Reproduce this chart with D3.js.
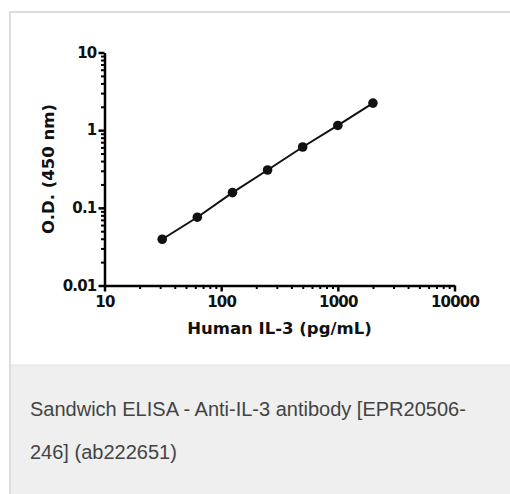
<!DOCTYPE html>
<html>
<head>
<meta charset="utf-8">
<script src="https://cdn.jsdelivr.net/npm/d3@7"></script>
<style>
  body { margin: 0; background: #fff; }
  svg { display: block; }
</style>
</head>
<body>
<svg id="chart"></svg>
<script>
// concentrations (pg/mL) and O.D. at 450 nm
const conc = [31.25, 62.5, 125, 250, 500, 1000, 2000];
const od = [0.0394, 0.0757, 0.157, 0.307, 0.607, 1.15, 2.23];
const xTicks = [10, 100, 1000, 10000];
const yTicks = [0.01, 0.1, 1, 10];
const xTitle = "Human IL-3 (pg/mL)";
const yTitle = "O.D. (450 nm)";
const captionLines = ["Sandwich ELISA - Anti-IL-3 antibody [EPR20506-", "246] (ab222651)"];

const width = 510, height = 494;
const svg = d3.select("#chart").attr("width", width).attr("height", height);

// card background: white chart panel + grey caption strip
svg.append("rect").attr("x", 10).attr("y", 12).attr("width", 500).attr("height", 353).attr("fill", "#fff");
svg.append("rect").attr("x", 10).attr("y", 365).attr("width", 500).attr("height", 129).attr("fill", "#eeefee");
svg.append("path")
  .attr("d", "M10,494V12H510")
  .attr("fill", "none").attr("stroke", "#dddddd").attr("stroke-width", 2);
svg.append("line").attr("x1", 10).attr("x2", 510).attr("y1", 365).attr("y2", 365)
  .attr("stroke", "#e2e2e2").attr("stroke-width", 1);

const x = d3.scaleLog().domain([10, 10000]).range([104.5, 454.5]);
const y = d3.scaleLog().domain([0.01, 10]).range([285.5, 52.5]);

const minorX = [];
xTicks.slice(0, -1).forEach(t => { for (let k = 2; k <= 9; k++) minorX.push(t * k); });
const minorY = [];
yTicks.slice(0, -1).forEach(t => { for (let k = 2; k <= 9; k++) minorY.push(t * k); });

const font = "'DejaVu Sans', sans-serif";

// minor ticks
svg.append("g")
  .attr("transform", `translate(0,${y(0.01)})`)
  .call(d3.axisBottom(x).tickValues(minorX).tickSize(3.5).tickFormat(""))
  .call(g => g.select(".domain").remove())
  .call(g => g.selectAll("line").attr("stroke-width", 2));
svg.append("g")
  .attr("transform", `translate(${x(10)},0)`)
  .call(d3.axisLeft(y).tickValues(minorY).tickSize(3.5).tickFormat(""))
  .call(g => g.select(".domain").remove())
  .call(g => g.selectAll("line").attr("stroke-width", 2));

// major axes
const xAxis = svg.append("g")
  .attr("transform", `translate(0,${y(0.01)})`)
  .call(d3.axisBottom(x).tickValues(xTicks).tickSize(6).tickSizeOuter(0).tickPadding(5).tickFormat(d3.format("d")));
xAxis.select(".domain").attr("stroke-width", 2.5);
xAxis.selectAll("line").attr("stroke-width", 2.5);
xAxis.selectAll("text").attr("font-family", font).attr("font-weight", "bold")
  .attr("font-size", 15).attr("letter-spacing", -0.8).attr("fill", "#111");

const yAxis = svg.append("g")
  .attr("transform", `translate(${x(10)},0)`)
  .call(d3.axisLeft(y).tickValues(yTicks).tickSize(6).tickSizeOuter(0).tickPadding(2)
    .tickFormat(d => d >= 1 ? d3.format("d")(d) : String(d)));
yAxis.select(".domain").attr("stroke-width", 2.5);
yAxis.selectAll("line").attr("stroke-width", 2.5);
yAxis.selectAll("text").attr("font-family", font).attr("font-weight", "bold")
  .attr("font-size", 15).attr("letter-spacing", -0.8).attr("fill", "#111");

// data line + points
const pts = conc.map((c, i) => [c, od[i]]);
svg.append("path")
  .datum(pts)
  .attr("d", d3.line().x(d => x(d[0])).y(d => y(d[1])))
  .attr("fill", "none").attr("stroke", "#111").attr("stroke-width", 2);
svg.selectAll(".dot")
  .data(pts)
  .enter()
  .append("circle")
  .attr("class", "dot")
  .attr("cx", d => x(d[0]))
  .attr("cy", d => y(d[1]))
  .attr("r", 4.8)
  .attr("fill", "#111");

// axis titles
svg.append("text")
  .attr("x", (x(10) + x(10000)) / 2)
  .attr("y", 334)
  .attr("text-anchor", "middle")
  .attr("font-family", font).attr("font-weight", "bold").attr("font-size", 16.5)
  .attr("fill", "#111")
  .text(xTitle);
svg.append("text")
  .attr("transform", `translate(54,${(y(0.01) + y(10)) / 2}) rotate(-90)`)
  .attr("text-anchor", "middle")
  .attr("font-family", font).attr("font-weight", "bold").attr("font-size", 16.5)
  .attr("fill", "#111")
  .text(yTitle);

// caption
const cap = svg.append("text")
  .attr("font-family", "'Liberation Sans', Arial, sans-serif")
  .attr("font-size", 20)
  .attr("fill", "#444");
captionLines.forEach((t, i) => {
  cap.append("tspan").attr("x", 30).attr("y", 416 + i * 43).text(t);
});
</script>
</body>
</html>
